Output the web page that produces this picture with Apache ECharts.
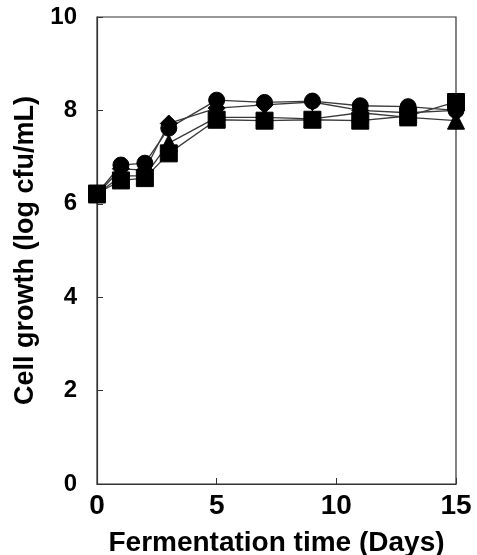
<!DOCTYPE html>
<html>
<head>
<meta charset="utf-8">
<script src="https://cdn.jsdelivr.net/npm/echarts@6/dist/echarts.min.js"></script>
<style>
html,body{margin:0;padding:0;background:#fff;}
#c{width:477px;height:555px;}
</style>
</head>
<body>
<div id="c"></div>
<script>
var days = [0, 1, 2, 3, 5, 7, 9, 11, 13, 15];
var circleVals = [6.22, 6.83, 6.87, 7.62, 8.22, 8.17, 8.20, 8.10, 8.08, 8.00];
var diamondVals = [6.20, 6.75, 6.72, 7.72, 8.05, 8.12, 8.18, 8.00, 7.95, 8.00];
var triUpVals = [6.20, 6.60, 6.60, 7.30, 7.85, 7.85, 7.82, 7.95, 7.85, 7.78];
var squareVals = [6.22, 6.50, 6.55, 7.08, 7.80, 7.78, 7.80, 7.78, 7.88, 8.18];
var xTicks = [0, 5, 10, 15];
var yTicks = [0, 2, 4, 6, 8, 10];

function pairs(v){ return days.map(function(d,i){ return [d, v[i]]; }); }
function mk(name, vals, symbol, size){
  return {
    name: name, type: 'line', data: pairs(vals),
    symbol: symbol, symbolSize: size,
    showAllSymbol: true,
    lineStyle: {color: '#3a3a3a', width: 1.3},
    itemStyle: {color: '#000', borderColor: '#000'},
    animation: false
  };
}
var chart = echarts.init(document.getElementById('c'));
var font = 'Liberation Sans, Arial, sans-serif';
chart.setOption({
  animation: false,
  grid: {left: 97, top: 17, right: 21, bottom: 71, show: true, borderColor: '#333', borderWidth: 1.2,
         containLabel: false, outerBoundsMode: 'none'},
  xAxis: {
    type: 'value', min: 0, max: 15, interval: 5,
    axisLine: {lineStyle: {color: '#333', width: 1.2}},
    axisTick: {inside: true, length: 6, lineStyle: {color: '#333'}},
    splitLine: {show: false},
    axisLabel: {color: '#000', fontSize: 28, fontWeight: 'bold', fontFamily: font, margin: 8},
    name: 'Fermentation time (Days)', nameLocation: 'middle', nameGap: 45,
    nameTextStyle: {color: '#000', fontSize: 28, fontWeight: 'bold', fontFamily: font}
  },
  yAxis: {
    type: 'value', min: 0, max: 10, interval: 2,
    axisLine: {lineStyle: {color: '#333', width: 1.2}},
    axisTick: {inside: true, length: 6, lineStyle: {color: '#333'}},
    splitLine: {show: false},
    axisLabel: {color: '#000', fontSize: 24, fontWeight: 'bold', fontFamily: font, margin: 20},
    name: 'Cell growth (log cfu/mL)', nameLocation: 'middle', nameGap: 55,
    nameTextStyle: {color: '#000', fontSize: 27, fontWeight: 'bold', fontFamily: font}
  },
  series: [
    mk('circle', circleVals, 'circle', 16),
    mk('diamond', diamondVals, 'diamond', 17),
    mk('triUp', triUpVals, 'triangle', 17),
    mk('square', squareVals, 'rect', 17)
  ]
});
</script>
</body>
</html>
